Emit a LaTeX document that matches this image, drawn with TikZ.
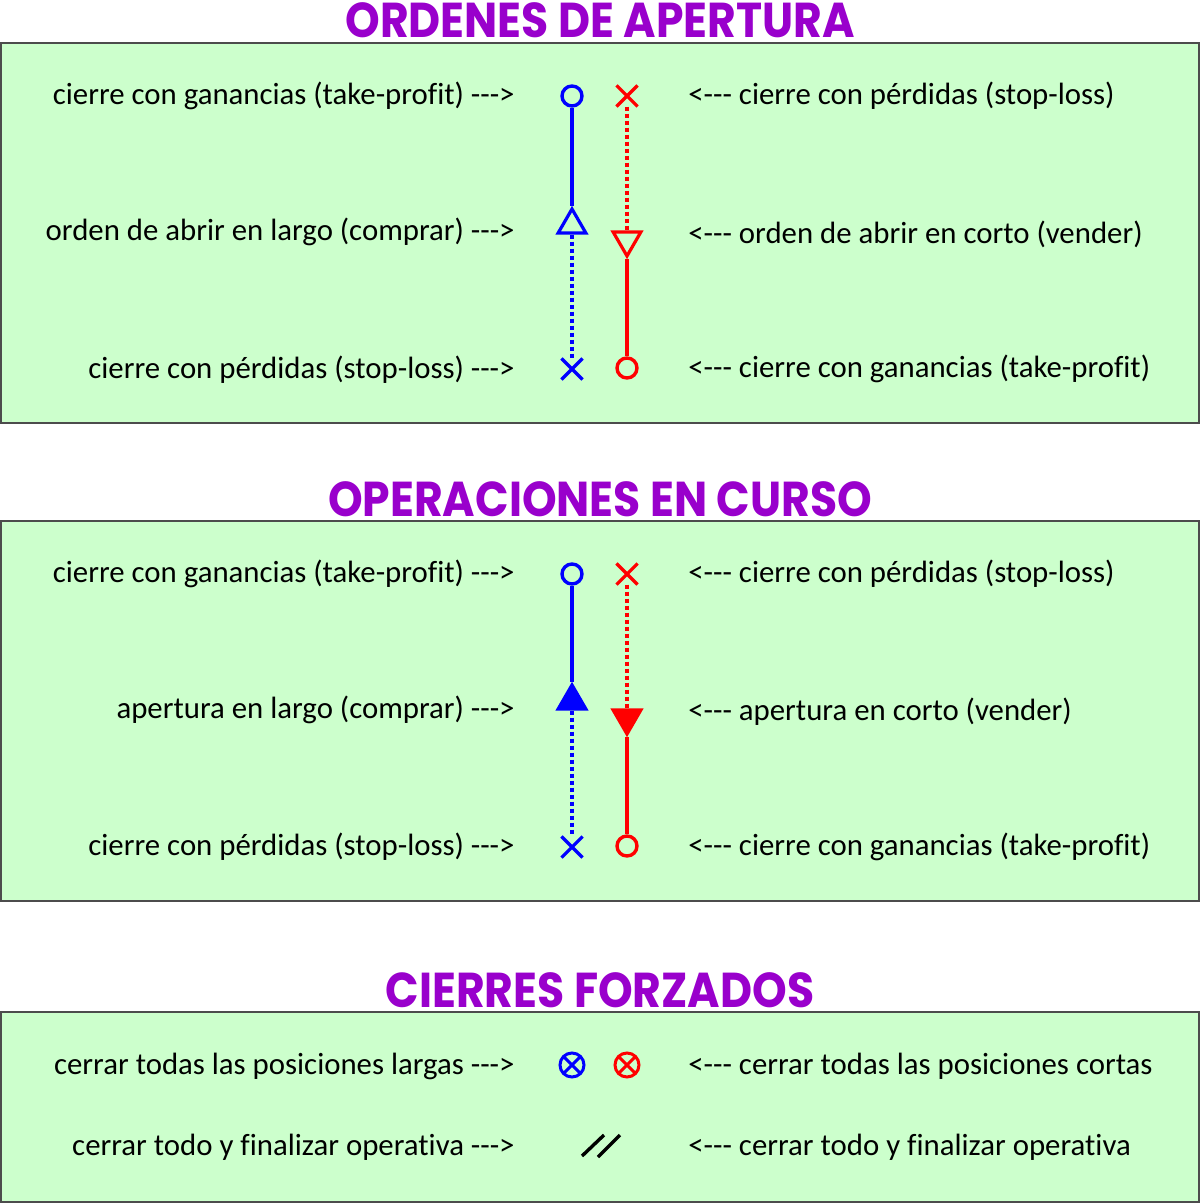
\documentclass[tikz,border=0pt]{standalone}
\usepackage{fontspec}
\setmainfont{Carlito}[Ligatures={TeXOff,CommonOff}]
\newfontfamily\titlefont{Poppins}
\usepackage{xcolor}
\usepackage{tikz}
\usetikzlibrary{positioning,shapes.geometric,shapes.misc}
\definecolor{panelgreen}{RGB}{204,255,204}
\definecolor{titlepurple}{RGB}{153,0,204}
\definecolor{lgred}{RGB}{255,0,0}
\definecolor{lgblue}{RGB}{0,0,255}
\newcommand{\ttltext}[1]{\scalebox{0.9}[1]{#1}}
\tikzset{
  lbl/.style={font=\fontsize{15.4}{17}\selectfont, inner sep=0pt},
  lft/.style={lbl, anchor=east},
  rgt/.style={lbl, anchor=west},
  panel/.style={draw=black!70, fill=panelgreen, line width=0.6pt},
  ttl/.style={font=\titlefont\bfseries\fontsize{24.5}{27}\selectfont, text=titlepurple, inner sep=0pt},
  ring/.style={circle, draw, line width=1.7pt, minimum size=10pt, inner sep=0pt},
  cruz/.style={cross out, draw, line width=1.6pt, minimum size=9pt, inner sep=0pt},
  tri/.style={regular polygon, regular polygon sides=3, draw, line width=1.6pt, minimum size=16pt, inner sep=0pt},
  tridn/.style={tri, shape border rotate=180},
  xring/.style={circle, draw, line width=1.5pt, minimum size=12pt, inner sep=0pt,
    path picture={\draw[line width=1.5pt] (path picture bounding box.north west) -- (path picture bounding box.south east)
      (path picture bounding box.north east) -- (path picture bounding box.south west);}},
  pto/.style={line width=1.7pt, dash pattern=on 2pt off 1.5pt},
  lin/.style={line width=1.7pt}
}
\begin{document}
\begin{tikzpicture}[x=0.5pt,y=-0.5pt]
\useasboundingbox (0,0) rectangle (1200,1203);
\draw[panel] (1,43) rectangle (1199,423);
\draw[panel] (1,521) rectangle (1199,901);
\draw[panel] (1,1012) rectangle (1199,1202);
\node[ttl] (t1) at (600,20) {\ttltext{ORDENES DE APERTURA}};
\node[ttl] (t2) at (600,499) {\ttltext{OPERACIONES EN CURSO}};
\node[ttl] (t3) at (600,990) {\ttltext{CIERRES FORZADOS}};
% ordenes de apertura
\node[lft] at (515,96) {cierre con ganancias (take-profit) --->};
\node[lft] at (515,232) {orden de abrir en largo (comprar) --->};
\node[lft] at (515,370) {cierre con pérdidas (stop-loss) --->};
\node[rgt] at (688,96) {<--- cierre con pérdidas (stop-loss)};
\node[rgt] at (688,234) {<--- orden de abrir en corto (vender)};
\node[rgt] at (688,369) {<--- cierre con ganancias (take-profit)};
\node[ring,lgblue] (tpL1) at (572,96) {};
\node[tri,lgblue] (abL1) at (572,225) {};
\node[cruz,lgblue] (slL1) at (572,369) {};
\node[cruz,lgred] (slS1) at (627,96) {};
\node[tridn,lgred] (abS1) at (627,240) {};
\node[ring,lgred] (tpS1) at (627,368) {};
\draw[lin,lgblue] (tpL1) -- (abL1);
\draw[pto,lgblue] (abL1) -- (slL1);
\draw[pto,lgred] (slS1) -- (abS1);
\draw[lin,lgred] (abS1) -- (tpS1);
% operaciones en curso
\node[lft] at (515,574) {cierre con ganancias (take-profit) --->};
\node[lft] at (515,710) {apertura en largo (comprar) --->};
\node[lft] at (515,847) {cierre con pérdidas (stop-loss) --->};
\node[rgt] at (688,574) {<--- cierre con pérdidas (stop-loss)};
\node[rgt] at (688,712) {<--- apertura en corto (vender)};
\node[rgt] at (688,847) {<--- cierre con ganancias (take-profit)};
\node[ring,lgblue] (tpL2) at (572,574) {};
\node[tri,lgblue,fill=lgblue] (abL2) at (572,701) {};
\node[cruz,lgblue] (slL2) at (572,847) {};
\node[cruz,lgred] (slS2) at (627,574) {};
\node[tridn,lgred,fill=lgred] (abS2) at (627,718) {};
\node[ring,lgred] (tpS2) at (627,846) {};
\draw[lin,lgblue] (tpL2) -- (abL2);
\draw[pto,lgblue] (abL2) -- (slL2);
\draw[pto,lgred] (slS2) -- (abS2);
\draw[lin,lgred] (abS2) -- (tpS2);
% cierres forzados
\node[lft] at (515,1066) {cerrar todas las posiciones largas --->};
\node[lft] at (515,1147) {cerrar todo y finalizar operativa --->};
\node[rgt] at (688,1066) {<--- cerrar todas las posiciones cortas};
\node[rgt] at (688,1147) {<--- cerrar todo y finalizar operativa};
\node[xring,lgblue] (cxL) at (572,1065) {};
\node[xring,lgred] (cxS) at (627,1065) {};
\draw[lin] (582,1156) -- (604,1135) (598,1157) -- (620,1135);
\end{tikzpicture}
\end{document}
